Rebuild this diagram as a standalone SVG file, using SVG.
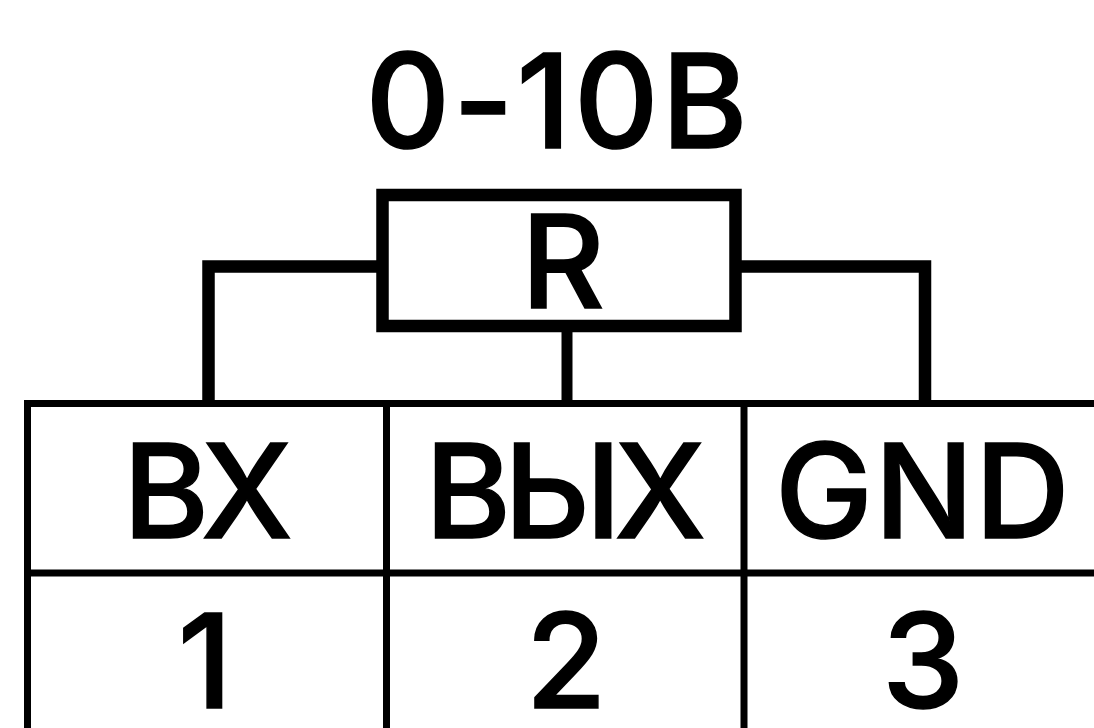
<svg xmlns="http://www.w3.org/2000/svg" width="1094" height="728" viewBox="0 0 1094 728">
<style>
text{font-family:Inter,"Liberation Sans",sans-serif;font-weight:500;fill:#000;text-anchor:middle;font-size:131px;stroke:#000;stroke-width:1.500px}
.w{fill:none;stroke:#000;stroke-width:12.5}
.g{fill:none;stroke:#000;stroke-width:7}
</style>
<rect width="1094" height="728" fill="#fff"/>
<g id="connectors">
<path class="w" d="M378 266.500H208.500V402"/>
<path class="w" d="M740 266.500H925V402"/>
<path class="w" d="M567 330V402" style="stroke-width:11"/>
</g>
<g id="resistor">
<rect class="w" x="382.500" y="195" width="353" height="131"/>
<text x="563" y="307.500" style="font-size:129px">R</text>
</g>
<g id="title"><text x="558" y="147.500" letter-spacing="3">0-10В</text></g>
<g id="table">
<path class="g" d="M1094 403.500H27.500V728M1094 573H27.500M386.500 403.500V728M744 403.500V728"/>
</g>
<g id="cell-bx"><text x="204" y="537.500" letter-spacing="-8">ВХ</text></g>
<g id="cell-vyh"><text x="562" y="537.500" letter-spacing="-7">ВЫХ</text></g>
<g id="cell-gnd"><text x="923" y="537.500" letter-spacing="1.500">GND</text></g>
<g id="cell-1"><text x="205" y="707.500">1</text></g>
<g id="cell-2"><text x="566" y="707.500">2</text></g>
<g id="cell-3"><text x="923" y="707.500">3</text></g>
</svg>
